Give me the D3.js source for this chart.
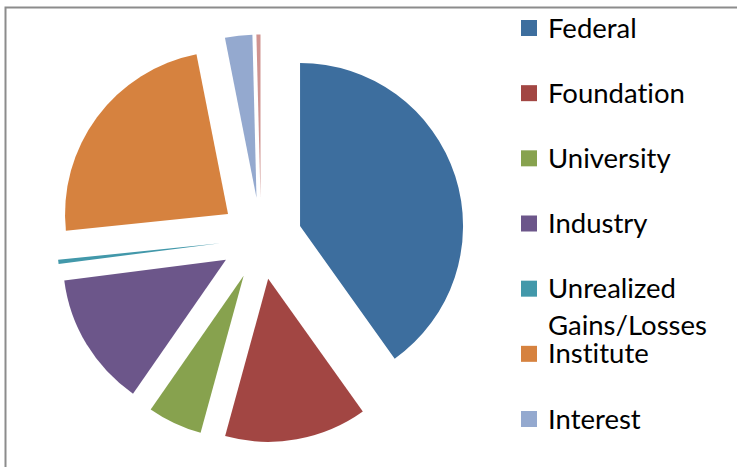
<!DOCTYPE html>
<html>
<head>
<meta charset="utf-8">
<script src="https://cdn.jsdelivr.net/npm/d3@7"></script>
<style>
  html, body { margin: 0; padding: 0; background: #fff; }
  svg { display: block; }
</style>
</head>
<body>
<svg id="chart"></svg>
<script>
// funding sources (percent of total)
const categories = ['Federal', 'Foundation', 'University', 'Industry', 'Unrealized Gains/Losses', 'Institute', 'Interest', 'Other'];
const values = [40.1, 14.1, 5.4, 13.3, 0.4, 23.5, 2.7, 0.4];
const colors = ['#3d6e9e', '#a24643', '#87a24e', '#6c568a', '#4298aa', '#d6823f', '#94a9cf', '#d09390'];
// the legend box only had room for the first seven
const legendItems = categories.slice(0, 7);

const width = 737, height = 467;
const cx = 261, cy = 238.5, radius = 163, explode = 41;

const svg = d3.select('#chart')
    .attr('width', width)
    .attr('height', height);

// chart frame (right and bottom sides fall outside the crop)
svg.append('path')
    .attr('d', `M5.5,${height + 2} L5.5,7.5 L${width + 2},7.5`)
    .attr('fill', 'none')
    .attr('stroke', '#8c8c8c')
    .attr('stroke-width', 2);

const color = d3.scaleOrdinal().domain(categories).range(colors);

const pie = d3.pie().sort(null).value(d => d[1]);
const slices = pie(d3.zip(categories, values));

const arc = d3.arc().innerRadius(0).outerRadius(radius);

const g = svg.append('g').attr('transform', `translate(${cx}, ${cy})`);

g.selectAll('path.slice')
    .data(slices)
    .enter()
    .append('path')
    .attr('class', 'slice')
    .attr('d', arc)
    .attr('fill', d => color(d.data[0]))
    .attr('transform', d => {
        // push every slice out along its bisector
        const a = (d.startAngle + d.endAngle) / 2;
        return `translate(${explode * Math.sin(a)}, ${-explode * Math.cos(a)})`;
    });

// legend
const legendY = d3.scalePoint()
    .domain(legendItems)
    .range([28, 419]);

const legend = svg.append('g')
    .style('font-family', 'Lato, "Open Sans", sans-serif')
    .style('font-size', '27.5px')
    .style('font-variant-ligatures', 'none')
    .style('fill', '#000');

const item = legend.selectAll('g.item')
    .data(legendItems)
    .enter()
    .append('g')
    .attr('class', 'item')
    .attr('transform', d => `translate(521, ${legendY(d)})`);

item.append('rect')
    .attr('x', 0)
    .attr('y', -8)
    .attr('width', 16)
    .attr('height', 16)
    .attr('fill', d => color(d));

item.append('text')
    .attr('x', 27)
    .attr('y', 9.5)
    .selectAll('tspan')
    .data(d => d.split(' '))
    .enter()
    .append('tspan')
    .attr('x', 27)
    .attr('dy', (d, i) => i === 0 ? 0 : 37)
    .text(d => d);
</script>
</body>
</html>
